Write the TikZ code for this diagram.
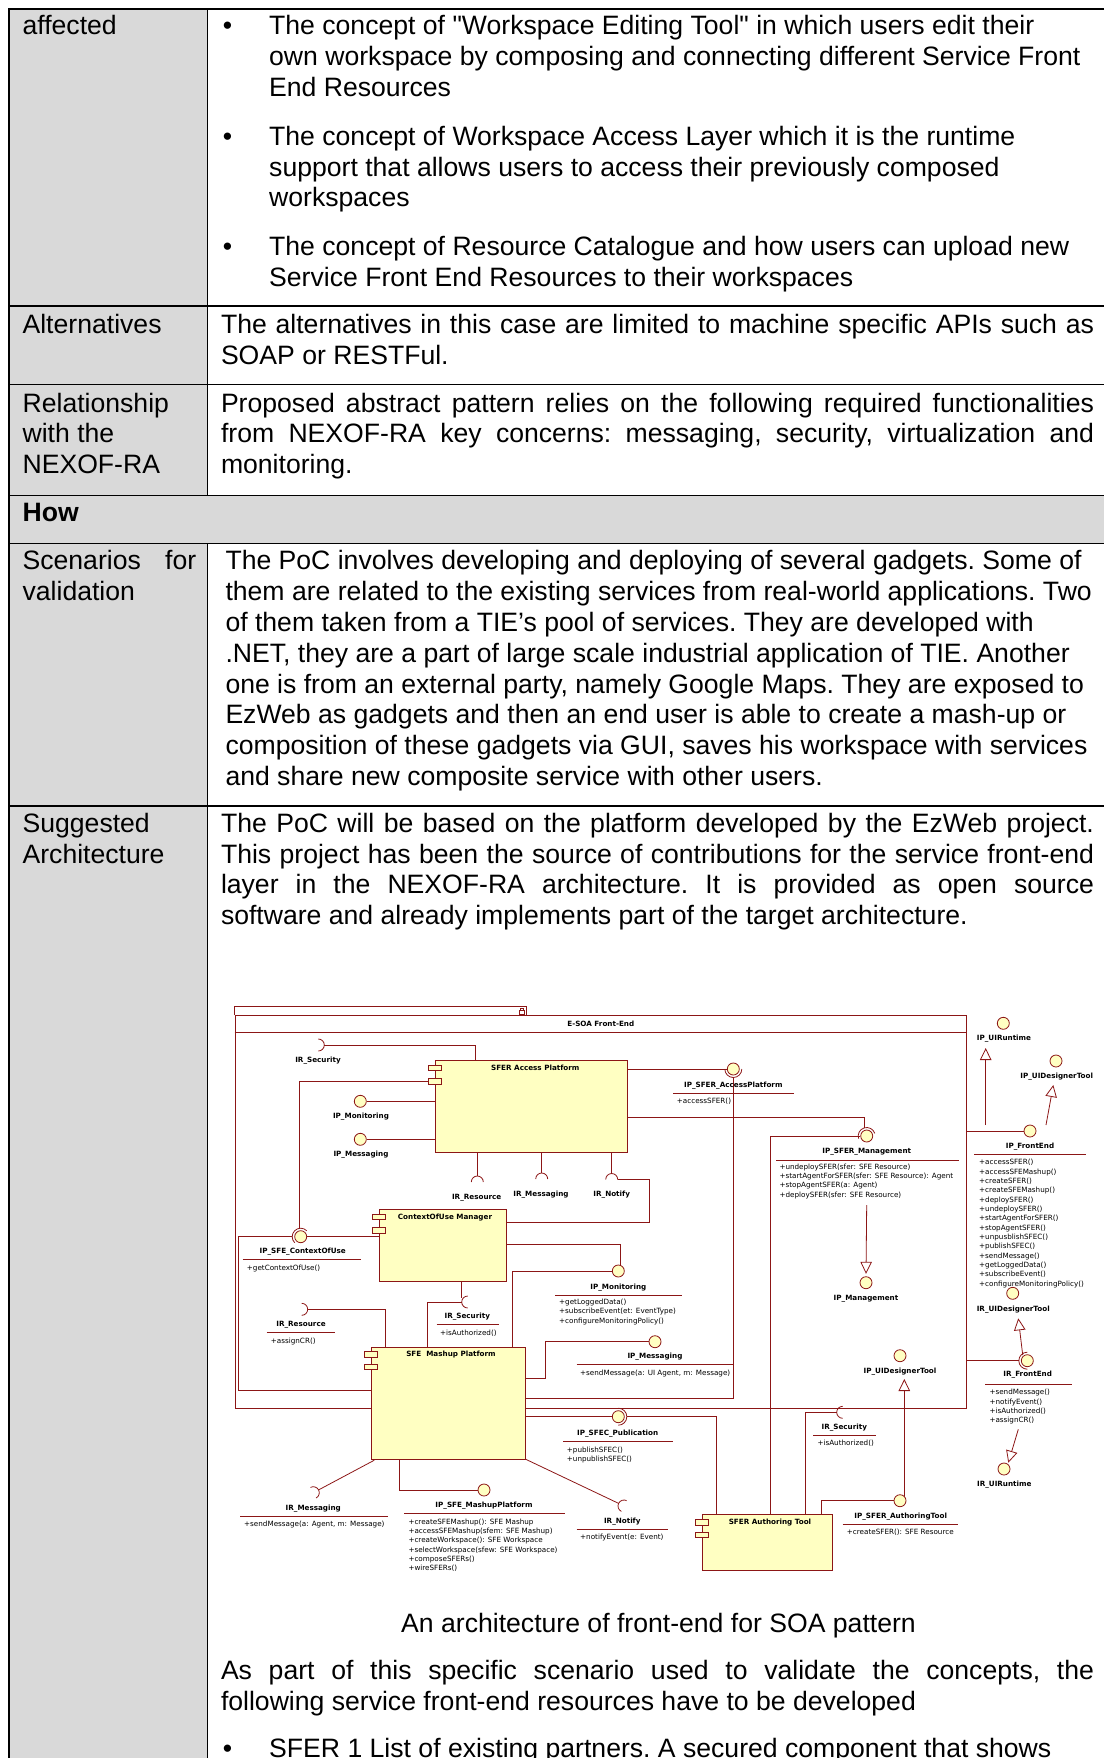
\documentclass[tikz,border=0pt]{standalone}
\usepackage{fontspec}
\setmainfont{Liberation Sans}[Ligatures=TeXOff]
\newfontfamily\umlfont{DejaVu Sans}
\usetikzlibrary{arrows.meta,calc}

\definecolor{cellgrey}{RGB}{217,217,217}
\definecolor{umlred}{RGB}{140,22,22}
\definecolor{umlfill}{RGB}{255,255,194}

\newcommand\bodyfont{\fontsize{26.6}{30.8}\selectfont\frenchspacing}
\newcommand\lblfont{\umlfont\bfseries\fontsize{7.2}{9.35}\selectfont}
\newcommand\opfont{\umlfont\fontsize{7.2}{9.35}\selectfont}
% stacked lines whose baseline is the first line's baseline
\newcommand\txtrows[1]{\begin{tabular}[t]{@{}l@{}}#1\end{tabular}}
% a justified line of given width (pt)
\newcommand\jline[2]{\makebox[#1pt][s]{#2}}
% required-interface socket: half circle around #1 bulging towards angle #2, radius #3
\newcommand\sock[3]{\draw[wire] ($(#1)+({#2-90}:#3)$) arc[start angle={#2-90}, end angle={#2+90}, radius=#3];}

\tikzset{
  frule/.style={draw=black, line width=1.3pt},
  tbody/.style={anchor=base west, inner sep=0pt, font=\bodyfont},
  tbul/.style={anchor=base, inner sep=0pt, font=\bodyfont},
  wire/.style={draw=umlred, line width=0.8pt},
  comp/.style={draw=umlred, fill=umlfill, line width=0.9pt, inner sep=0pt, anchor=north west},
  port/.style={draw=umlred, fill=umlfill, line width=0.7pt, inner sep=0pt, minimum width=13.4pt, minimum height=5.4pt},
  ball/.style={circle, draw=umlred, fill=umlfill, line width=0.8pt, inner sep=0pt, minimum size=12pt},
  lbl/.style={anchor=base, inner sep=0pt, font=\lblfont},
  ops/.style={anchor=base west, inner sep=0pt, font=\opfont},
  uline/.style={draw=umlred, line width=0.8pt},
  gen/.style={wire, -{Triangle[length=12pt, width=11.5pt, fill=white]}},
}

\begin{document}
\begin{tikzpicture}[x=1pt, y=-1pt]
\useasboundingbox (0,0) rectangle (1104,1758);
\clip (0,0) rectangle (1104,1758);

% ---------------- table ----------------
\fill[cellgrey] (9,9) rectangle (207.3,1758);
\fill[cellgrey] (207.3,495.4) rectangle (1104,543.6);
\draw[frule] (1104,9) -- (9,9) -- (9,1760);
\draw[frule] (207.3,9) -- (207.3,495.4);
\draw[frule] (207.3,543.6) -- (207.3,1760);
\foreach \y in {306,384.5,495.4,543.6,806} \draw[frule] (9,\y) -- (1104,\y);

% affected
\node[tbody] (affL) at (22.4,34.5) {affected};
\node[tbul] (bu1) at (227.5,34.5) {\textbullet};
\node[tbody] (aff1) at (269,34.5) {\txtrows{The concept of "Workspace Editing Tool" in which users edit their\\own workspace by composing and connecting different Service Front\\End Resources}};
\node[tbul] (bu2) at (227.5,145.3) {\textbullet};
\node[tbody] (aff2) at (269,145.3) {\txtrows{The concept of Workspace Access Layer which it is the runtime\\support that allows users to access their previously composed\\workspaces}};
\node[tbul] (bu3) at (227.5,255.7) {\textbullet};
\node[tbody] (aff3) at (269,255.7) {\txtrows{The concept of Resource Catalogue and how users can upload new\\Service Front End Resources to their workspaces}};

% alternatives
\node[tbody] (altL) at (22.4,333.4) {Alternatives};
\node[tbody] (altT) at (220.8,333.4) {\txtrows{\jline{873}{The alternatives in this case are limited to machine specific APIs such as}\\SOAP or RESTFul.}};

% relationship
\node[tbody] (relL) at (22.4,412) {\txtrows{Relationship\\with the\\NEXOF-RA}};
\node[tbody] (relT) at (220.8,412) {\txtrows{\jline{873}{Proposed abstract pattern relies on the following required functionalities}\\\jline{873}{from NEXOF-RA key concerns: messaging, security, virtualization and}\\monitoring.}};

% how
\node[tbody, font=\bodyfont\bfseries] (how) at (22.4,521.7) {How};

% scenarios
\node[tbody] (scnL) at (22.4,569.9) {\txtrows{\jline{173.6}{Scenarios for}\\validation}};
\node[tbody] (scnT) at (225.3,569.9) {\txtrows{The PoC involves developing and deploying of several gadgets. Some of\\them are related to the existing services from real-world applications. Two\\of them taken from a TIE’s pool of services. They are developed with\\.NET, they are a part of large scale industrial application of TIE. Another\\one is from an external party, namely Google Maps. They are exposed to\\EzWeb as gadgets and then an end user is able to create a mash-up or\\composition of these gadgets via GUI, saves his workspace with services\\and share new composite service with other users.}};

% suggested architecture
\node[tbody] (sugL) at (22.4,832.2) {\txtrows{Suggested\\Architecture}};
\node[tbody] (sugT) at (220.8,832.2) {\txtrows{\jline{873}{The PoC will be based on the platform developed by the EzWeb project.}\\\jline{873}{This project has been the source of contributions for the service front-end}\\\jline{873}{layer in the NEXOF-RA architecture. It is provided as open source}\\software and already implements part of the target architecture.}};

\node[tbul] (cap) at (658.5,1632.5) {An architecture of front-end for SOA pattern};
\node[tbody] (after) at (220.8,1679.5) {\txtrows{\jline{873}{As part of this specific scenario used to validate the concepts, the}\\following service front-end resources have to be developed}};
\node[tbul] (bu4) at (227.5,1757.5) {\textbullet};
\node[tbody] (sfer1) at (269,1757.5) {SFER 1 List of existing partners. A secured component that shows};

% ---------------- component diagram ----------------
\node[draw=umlred, line width=0.9pt, inner sep=0pt, minimum width=731pt, minimum height=392.7pt, anchor=north west] (frame) at (234.7,1015) {};
\draw[wire] (frame.north west) -- ++(0,-9) -- ++(292,0) -- ++(0,9);
\draw[umlred, line width=0.5pt] (519,1014.5) rectangle (524.5,1010) (520.5,1010) -- (520.5,1008) -- (523,1008) -- (523,1010);
\draw[wire] ($(frame.north west)+(0,17.3)$) -- ($(frame.north east)+(0,17.3)$);
\node[lbl] (frameT) at (600.8,1026.6) {E-SOA Front-End};

% components
\node[comp, minimum width=192.3pt, minimum height=91.2pt] (sap) at (435,1060.3) {};
\node[port] (sapP1) at ($(sap.north west)+(0,7.7)$) {};
\node[port] (sapP2) at ($(sap.north west)+(0,21)$) {};
\node[lbl] (sapT) at (535.3,1070.6) {SFER Access Platform};

\node[comp, minimum width=127.3pt, minimum height=71.7pt] (cum) at (378.7,1209) {};
\node[port] (cumP1) at ($(cum.north west)+(0,7.8)$) {};
\node[port] (cumP2) at ($(cum.north west)+(0,21.2)$) {};
\node[lbl] (cumT) at (445,1219.6) {ContextOfUse Manager};

\node[comp, minimum width=154pt, minimum height=112.6pt] (smp) at (370.7,1346.7) {};
\node[port] (smpP1) at ($(smp.north west)+(0,7.5)$) {};
\node[port] (smpP2) at ($(smp.north west)+(0,20)$) {};
\node[lbl] (smpT) at (451,1356.6) {SFE\ \ Mashup Platform};

\node[comp, minimum width=130pt, minimum height=55.7pt] (sat) at (701.7,1514.3) {};
\node[port] (satP1) at ($(sat.north west)+(0,7.9)$) {};
\node[port] (satP2) at ($(sat.north west)+(0,20.7)$) {};
\node[lbl] (satT) at (770,1524.6) {SFER Authoring Tool};

% provided interfaces
\node[ball] (bMonL) at (360.3,1101.3) {};
\node[ball] (bMsgL) at (360.3,1139.3) {};
\node[ball] (bAP) at (733.3,1069) {};
\node[ball] (bMgmt) at (866.7,1136) {};
\node[ball] (bMan) at (866,1282.7) {};
\node[ball] (bUIR) at (1003.3,1023.3) {};
\node[ball] (bUID) at (1056,1061) {};
\node[ball] (bFE) at (1030,1131) {};
\node[ball] (bRUID) at (1012.7,1293.3) {};
\node[ball] (bRFE) at (1027.3,1360.7) {};
\node[ball] (bRUIR) at (1004,1469) {};
\node[ball] (bCoU) at (300.7,1236.7) {};
\node[ball] (bMonR) at (618.3,1271) {};
\node[ball] (bMsgR) at (655,1341.7) {};
\node[ball] (bPub) at (618.3,1416.7) {};
\node[ball] (bMP) at (484,1490) {};
\node[ball] (bAT) at (900,1500.7) {};
\node[ball] (bUID2) at (900,1355.7) {};

% SFER Access Platform wiring
\coordinate (sSec1) at (318.3,1045);
\sock{sSec1}{0}{6}
\draw[wire] ($(sSec1)+(6,0)$) -| ($(sap.north west)+(40,0)$);
\draw[wire] (sapP2.west) -| ($(bCoU.center)+(-1.4,-8.4)$);
\draw[wire] (bMonL.east) -- (bMonL.east -| sap.west);
\draw[wire] (bMsgL.east) -- (bMsgL.east -| sap.west);
\coordinate (sRes1) at (477.3,1182);
\sock{sRes1}{-90}{6}
\draw[wire] (sap.south -| sRes1) -- ($(sRes1)+(0,-6)$);
\coordinate (sMsg1) at (541.7,1179);
\sock{sMsg1}{-90}{6}
\draw[wire] (sap.south -| sMsg1) -- ($(sMsg1)+(0,-6)$);
\coordinate (sNot1) at (611.7,1179.5);
\sock{sNot1}{-90}{6}
\draw[wire] (sap.south -| sNot1) -- ($(sNot1)+(0,-6)$);
\draw[wire] ($(sNot1)+(6,0)$) -- ++(31.6,0) |- ($(cum.north east)+(0,13.3)$);
\draw[wire] (sap.east |- bAP) -- (bAP.west);
\sock{bAP.center}{90}{8.5}
\draw[wire] ($(bAP.center)+(0,8.5)$) |- ($(smp.north east)+(0,51.6)$);
\draw[wire] ($(sap.north east)+(0,57)$) -| ($(bMgmt.center)+(-2.6,-8.1)$);
\sock{bMgmt.center}{-108}{8.5}
\draw[wire] ($(sat.north west)+(68.6,0)$) |- (bMgmt.west);
\coordinate (mgmtFoot) at (866.7,1205);
\draw[gen] (mgmtFoot) -- ($(bMan.north)+(0,-2.5)$);

% ContextOfUse Manager wiring
\draw[wire] (cum.west |- bCoU) -- (bCoU.east);
\sock{bCoU.center}{-135}{8.5}
\draw[wire] ($(bCoU.center)+(-8.5,0)$) -- ++(-54,0) |- ($(smp.north west)+(0,43.3)$);
\draw[wire] ($(cum.north east)+(0,35)$) -| ($(bMonR.center)+(1.7,-5.8)$);
\draw[wire] ($(smp.north west)+(142,0)$) |- (bMonR.west);
\coordinate (sSec2) at (467.7,1302);
\sock{sSec2}{180}{6}
\draw[wire] ($(cum.south west)+(83,0)$) -- ++(0,16);
\draw[wire] ($(smp.north west)+(56.6,0)$) |- ($(sSec2)+(-6,0)$);
\coordinate (sRes2) at (301.7,1309.3);
\sock{sRes2}{0}{6}
\draw[wire] ($(sRes2)+(6,0)$) -| ($(smp.north west)+(15,0)$);

% SFE Mashup Platform wiring
\draw[wire] ($(smp.north east)+(0,31.6)$) -- ++(19.6,0) |- (bMsgR.west);
\draw[wire] ($(smp.north east)+(0,70)$) -- (bPub.west);
\sock{bPub.center}{0}{8.5}
\draw[wire] ($(bPub.center)+(8.5,0)$) -| ($(sat.north west)+(15,0)$);
\coordinate (sNot2) at (624,1506);
\sock{sNot2}{206}{6}
\draw[wire] ($(smp.south east)+(0,-1)$) -- ($(sNot2)+(206:6)$);
\coordinate (sMsg2) at (313.3,1492.7);
\sock{sMsg2}{-28}{6}
\draw[wire] ($(smp.south west)+(3.6,0)$) -- ($(sMsg2)+(-28:6)$);
\draw[wire] ($(smp.south west)+(28.6,0)$) |- (bMP.west);

% SFER Authoring Tool wiring
\coordinate (sSec3) at (842.7,1412.3);
\sock{sSec3}{180}{6}
\draw[wire] ($(sat.north west)+(103.8,0)$) |- ($(sSec3)+(-6,0)$);
\draw[wire] ($(sat.north west)+(120,0)$) |- (bAT.west);
\draw[gen] ($(bAT.center)+(4.3,-5)$) -- ($(bUID2.center)+(4.3,23.3)$);

% front-end ports and their generalisations
\draw[wire] (frame.east |- bFE) -- (bFE.west);
\draw[gen] ($(bFE.center)+(-44.3,-6)$) -- ($(bUIR.center)+(-17.6,24.7)$);
\draw[gen] ($(bFE.center)+(16,-6)$) -- ($(bUID.center)+(-2.7,24)$);
\draw[wire] (frame.east |- bRFE) -- ($(bRFE.center)+(-8.5,0)$);
\sock{bRFE.center}{180}{8.5}
\draw[gen] ($(bRFE.center)+(-4.6,-5.7)$) -- ($(bRUID.center)+(5.6,25)$);
\coordinate (rfeFoot) at (1018.3,1429.3);
\draw[gen] (rfeFoot) -- ($(bRUIR.center)+(4.3,-6.3)$);

% interface names
\node[lbl] (l1) at (318,1062.6) {IR\_Security};
\node[lbl] (l2) at (361,1118.9) {IP\_Monitoring};
\node[lbl] (l3) at (361,1156.6) {IP\_Messaging};
\node[lbl] (l5) at (733.3,1087.9) {IP\_SFER\_AccessPlatform};
\node[lbl] (l6) at (476.7,1199) {IR\_Resource};
\node[lbl] (l7) at (541,1196) {IR\_Messaging};
\node[lbl] (l8) at (611.7,1196) {IR\_Notify};
\node[lbl] (l9) at (866.7,1153.6) {IP\_SFER\_Management};
\node[lbl] (l10) at (866,1300.9) {IP\_Management};
\node[lbl] (l11) at (1004,1040.9) {IP\_UIRuntime};
\node[lbl] (l12) at (1056.7,1078.9) {IP\_UIDesignerTool};
\node[lbl] (l13) at (1030,1148.6) {IP\_FrontEnd};
\node[lbl] (l14) at (1013.3,1311.6) {IR\_UIDesignerTool};
\node[lbl] (l15) at (1027.7,1376.9) {IR\_FrontEnd};
\node[lbl] (l16) at (1004.3,1486.9) {IR\_UIRuntime};
\node[lbl] (l18) at (302.7,1253.9) {IP\_SFE\_ContextOfUse};
\node[lbl] (l19) at (618.3,1289.3) {IP\_Monitoring};
\node[lbl] (l20) at (467.3,1318.6) {IR\_Security};
\node[lbl] (l21) at (301,1326.6) {IR\_Resource};
\node[lbl] (l23) at (655,1358.6) {IP\_Messaging};
\node[lbl] (l24) at (900,1373.6) {IP\_UIDesignerTool};
\node[lbl] (l25) at (617.7,1435.3) {IP\_SFEC\_Publication};
\node[lbl] (l26) at (844.3,1429.6) {IR\_Security};
\node[lbl] (l27) at (313.3,1510.3) {IR\_Messaging};
\node[lbl] (l28) at (484,1507.9) {IP\_SFE\_MashupPlatform};
\node[lbl] (l29) at (622.3,1523.6) {IR\_Notify};
\node[lbl] (l31) at (900.7,1518.6) {IP\_SFER\_AuthoringTool};

% separators between interface names and operations
\draw[uline] (673.3,1093.7) -- (794.3,1093.7);
\draw[uline] (776,1160) -- (959.3,1160);
\draw[uline] (974.3,1154.3) -- (1085.7,1154.3);
\draw[uline] (985,1384) -- (1071.7,1384);
\draw[uline] (242.7,1259.7) -- (361,1259.7);
\draw[uline] (555,1295) -- (682.3,1295);
\draw[uline] (436.7,1324.7) -- (499.3,1324.7);
\draw[uline] (266.7,1332.7) -- (335,1332.7);
\draw[uline] (576.7,1364.7) -- (734.3,1364.7);
\draw[uline] (563.3,1441.7) -- (673.3,1441.7);
\draw[uline] (813.3,1435.3) -- (875.7,1435.3);
\draw[uline] (240,1516) -- (387.7,1516);
\draw[uline] (404,1513.3) -- (565,1513.3);
\draw[uline] (576.7,1529.7) -- (668.3,1529.7);
\draw[uline] (842.7,1524.3) -- (957.7,1524.3);

% operations
\node[ops] (o5) at (676.7,1103.4) {+accessSFER()};
\node[ops] (o9) at (779.3,1169.1) {\txtrows{+undeploySFER(sfer: SFE Resource)\\+startAgentForSFER(sfer: SFE Resource): Agent\\+stopAgentSFER(a: Agent)\\+deploySFER(sfer: SFE Resource)}};
\node[ops] (o13) at (979,1164.7) {\txtrows{+accessSFER()\\+accessSFEMashup()\\+createSFER()\\+createSFEMashup()\\+deploySFER()\\+undeploySFER()\\+startAgentForSFER()\\+stopAgentSFER()\\+unpusblishSFEC()\\+publishSFEC()\\+sendMessage()\\+getLoggedData()\\+subscribeEvent()\\+configureMonitoringPolicy()}};
\node[ops] (o15) at (989.3,1394.7) {\txtrows{+sendMessage()\\+notifyEvent()\\+isAuthorized()\\+assignCR()}};
\node[ops] (o18) at (246.7,1270.1) {+getContextOfUse()};
\node[ops] (o19) at (559,1304.4) {\txtrows{+getLoggedData()\\+subscribeEvent(et: EventType)\\+configureMonitoringPolicy()}};
\node[ops] (o20) at (440,1335.1) {+isAuthorized()};
\node[ops] (o21) at (270.7,1343.1) {+assignCR()};
\node[ops] (o23) at (580,1375.1) {+sendMessage(a: UI Agent, m: Message)};
\node[ops] (o25) at (566.7,1452.4) {\txtrows{+publishSFEC()\\+unpublishSFEC()}};
\node[ops] (o26) at (817.3,1445.4) {+isAuthorized()};
\node[ops] (o27) at (244,1526.7) {+sendMessage(a: Agent, m: Message)};
\node[ops] (o28) at (408.3,1524.1) {\txtrows{+createSFEMashup(): SFE Mashup\\+accessSFEMashup(sfem: SFE Mashup)\\+createWorkspace(): SFE Workspace\\+selectWorkspace(sfew: SFE Workspace)\\+composeSFERs()\\+wireSFERs()}};
\node[ops] (o29) at (580,1539.4) {+notifyEvent(e: Event)};
\node[ops] (o31) at (846.7,1534.7) {+createSFER(): SFE Resource};
\end{tikzpicture}
\end{document}
